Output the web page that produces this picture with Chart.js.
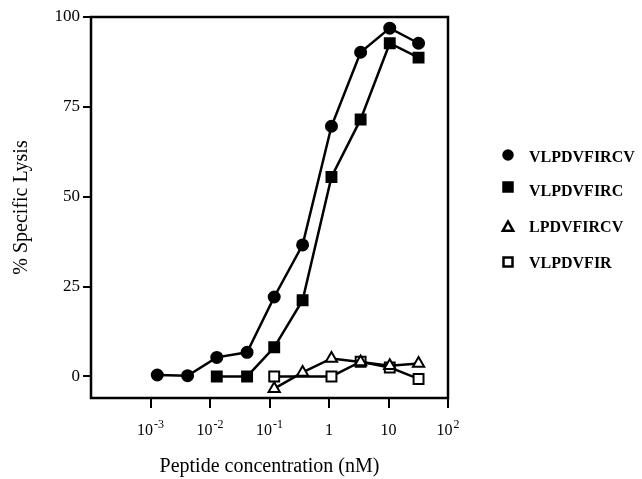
<!DOCTYPE html>
<html>
<head>
<meta charset="utf-8">
<script src="https://cdn.jsdelivr.net/npm/chart.js@4/dist/chart.umd.min.js"></script>
<style>
  html, body { margin: 0; padding: 0; background: #fff; }
  #wrap { width: 642px; height: 479px; }
</style>
</head>
<body>
<div id="wrap"><canvas id="chart" width="642" height="479"></canvas></div>
<script>
// peptide concentrations (nM)
const concVLPDVFIRCV = [0.0013, 0.0042, 0.013, 0.042, 0.12, 0.36, 1.1, 3.4, 10.5, 32]
const concVLPDVFIRC = [0.013, 0.042, 0.12, 0.36, 1.1, 3.4, 10.5, 32]
const concLPDVFIRCV = [0.12, 0.36, 1.1, 3.4, 10.5, 32]
const concVLPDVFIR = [0.12, 1.1, 3.4, 10.5, 32]

// % specific lysis
const lysisVLPDVFIRCV = [0.4, 0.2, 5.3, 6.7, 22.1, 36.6, 69.6, 90.2, 96.9, 92.7]
const lysisVLPDVFIRC = [0, 0, 8.1, 21.2, 55.5, 71.5, 92.7, 88.7]
const lysisLPDVFIRCV = [-3.4, 1.1, 5.0, 4.0, 3.0, 3.6]
const lysisVLPDVFIR = [0, 0, 4.1, 2.5, -0.7]

const yTicks = [0, 25, 50, 75, 100]
const xTickExps = [-3, -2, -1, 0, 1, 2]

const SERIF = "'Liberation Serif', 'Times New Roman', serif"

function toPoints(xs, ys) {
  return xs.map((x, i) => ({ x: x, y: ys[i] }))
}

// marker look per series, shared by datasets and legend
const markers = [
  { label: "VLPDVFIRCV", style: "circle", radius: 5.5, fill: "#000" },
  { label: "VLPDVFIRC", style: "rect", radius: 7, fill: "#000" },
  { label: "LPDVFIRCV", style: "triangle", radius: 6.5, fill: "#fff" },
  { label: "VLPDVFIR", style: "rect", radius: 7, fill: "#fff" }
]
const seriesData = [
  toPoints(concVLPDVFIRCV, lysisVLPDVFIRCV),
  toPoints(concVLPDVFIRC, lysisVLPDVFIRC),
  toPoints(concLPDVFIRCV, lysisLPDVFIRCV),
  toPoints(concVLPDVFIR, lysisVLPDVFIR)
]

const datasets = markers.map((m, i) => ({
  label: m.label,
  data: seriesData[i],
  borderColor: "#000",
  borderWidth: 2.5,
  tension: 0,
  pointStyle: m.style,
  pointRadius: m.radius,
  pointBackgroundColor: m.fill,
  pointBorderColor: "#000",
  pointBorderWidth: 2,
  clip: false
}))

// draw a marker by hand (legend only)
function drawMarker(ctx, m, x, y, r) {
  ctx.save()
  ctx.fillStyle = m.fill
  ctx.strokeStyle = "#000"
  ctx.lineWidth = 2.5
  ctx.beginPath()
  if (m.style === "circle") {
    ctx.arc(x, y, r, 0, Math.PI * 2)
  } else if (m.style === "rect") {
    ctx.rect(x - r, y - r, 2 * r, 2 * r)
  } else {
    ctx.moveTo(x, y - r)
    ctx.lineTo(x + r * 0.95, y + r * 0.7)
    ctx.lineTo(x - r * 0.95, y + r * 0.7)
    ctx.closePath()
  }
  ctx.fill()
  ctx.stroke()
  ctx.restore()
}

const framePlugin = {
  id: "frame",
  afterDraw(chart) {
    const ctx = chart.ctx
    const a = chart.chartArea
    const xs = chart.scales.x

    // box round the plot
    ctx.save()
    ctx.strokeStyle = "#000"
    ctx.lineWidth = 2.5
    ctx.strokeRect(a.left, a.top, a.right - a.left, a.bottom - a.top)

    // x tick labels with real superscripts
    ctx.fillStyle = "#000"
    ctx.textBaseline = "alphabetic"
    const baseY = 435
    xTickExps.forEach((e) => {
      const px = xs.getPixelForValue(Math.pow(10, e))
      if (e === 0 || e === 1) {
        ctx.font = "16px " + SERIF
        ctx.textAlign = "center"
        ctx.fillText(e === 0 ? "1" : "10", px, baseY)
        return
      }
      const sup = String(e)
      ctx.font = "16px " + SERIF
      const wBase = ctx.measureText("10").width
      ctx.font = "12px " + SERIF
      const wSup = ctx.measureText(sup).width
      const start = px - (wBase + wSup + 1) / 2
      ctx.textAlign = "left"
      ctx.font = "16px " + SERIF
      ctx.fillText("10", start, baseY)
      ctx.font = "12px " + SERIF
      ctx.fillText(sup, start + wBase + 1, baseY - 7)
    })

    // legend on the right
    const rows = [
      { my: 155, ty: 158 },
      { my: 187, ty: 192 },
      { my: 227, ty: 228 },
      { my: 262, ty: 264 }
    ]
    ctx.font = "bold 16px " + SERIF
    ctx.textAlign = "left"
    ctx.textBaseline = "middle"
    markers.forEach((m, i) => {
      const r = m.style === "triangle" ? 5.5 : 4.5
      drawMarker(ctx, m, 508, rows[i].my, r)
      ctx.fillStyle = "#000"
      ctx.fillText(m.label, 529, rows[i].ty)
    })
    ctx.restore()
  }
}

new Chart(document.getElementById("chart"), {
  type: "line",
  data: { datasets: datasets },
  options: {
    responsive: false,
    animation: false,
    layout: { padding: { top: 17, right: 194, left: 0, bottom: 0 } },
    plugins: {
      legend: { display: false },
      tooltip: { enabled: false }
    },
    scales: {
      x: {
        type: "logarithmic",
        min: 0.0001,
        max: 100,
        border: { display: false },
        grid: {
          drawOnChartArea: false,
          drawTicks: true,
          tickLength: 10,
          color: "#000",
          lineWidth: 2
        },
        ticks: { display: false },
        afterBuildTicks(scale) {
          scale.ticks = xTickExps.map((e) => ({ value: Math.pow(10, e) }))
        },
        afterFit(scale) {
          scale.height = 81
        },
        title: {
          display: true,
          text: "Peptide concentration (nM)",
          color: "#000",
          font: { family: SERIF, size: 20 },
          padding: { top: 0, bottom: 0 }
        }
      },
      y: {
        min: -6,
        max: 100,
        border: { display: false },
        grid: {
          drawOnChartArea: false,
          drawTicks: true,
          tickLength: 8,
          color: "#000",
          lineWidth: 2
        },
        ticks: {
          color: "#000",
          padding: 3,
          font: { family: SERIF, size: 17 }
        },
        afterBuildTicks(scale) {
          scale.ticks = yTicks.map((v) => ({ value: v }))
        },
        afterFit(scale) {
          scale.width = 91
        },
        title: {
          display: true,
          text: "% Specific Lysis",
          color: "#000",
          font: { family: SERIF, size: 20 },
          padding: { top: 10, bottom: 0 }
        }
      }
    }
  },
  plugins: [framePlugin]
})
</script>
</body>
</html>
